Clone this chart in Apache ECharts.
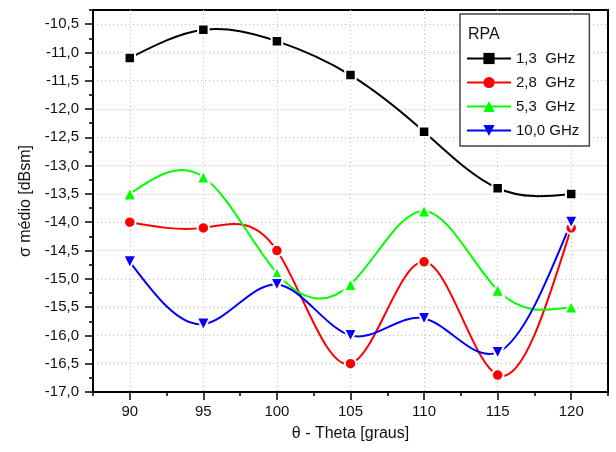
<!DOCTYPE html>
<html><head><meta charset="utf-8">
<script src="https://cdn.jsdelivr.net/npm/echarts@6/dist/echarts.min.js"></script>
<style>html,body{margin:0;padding:0;background:#fff}#c{width:616px;height:452px}</style>
</head><body><div id="c"></div>
<script>
const thetas = [90, 95, 100, 105, 110, 115, 120];
const s13 = [-11.1, -10.6, -10.8, -11.4, -12.4, -13.4, -13.5];
const s28 = [-14.0, -14.1, -14.5, -16.5, -14.7, -16.7, -14.1];
const s53 = [-13.5, -13.2, -14.9, -15.1, -13.8, -15.2, -15.5];
const s100 = [-14.7, -15.8, -15.1, -16.0, -15.7, -16.3, -14.0];
const seriesNames = ['1,3  GHz', '2,8  GHz', '5,3  GHz', '10,0 GHz'];
const legendTitle = 'RPA';
const xMajor = [90, 95, 100, 105, 110, 115, 120];
const xMinor = [87.5, 92.5, 97.5, 102.5, 107.5, 112.5, 117.5, 122.5];
const yMajor = [-17, -16.5, -16, -15.5, -15, -14.5, -14, -13.5, -13, -12.5, -12, -11.5, -11, -10.5];
const yMinor = [-16.75, -16.25, -15.75, -15.25, -14.75, -14.25, -13.75, -13.25, -12.75, -12.25, -11.75, -11.25, -10.75, -10.25];

const FONT = "'Liberation Sans', Arial, sans-serif";
const pair = arr => thetas.map((t, i) => [t, arr[i]]);
const chart = echarts.init(document.getElementById('c'), null, {renderer: 'canvas'});

// natural cubic spline through pixel points -> bezier path
function splinePath(pts) {
  const n = pts.length;
  const x = pts.map(p => p[0]), y = pts.map(p => p[1]);
  const h = [];
  for (let i = 0; i < n - 1; i++) h.push(x[i + 1] - x[i]);
  const M = new Array(n).fill(0);
  if (n > 2) {
    const a = [], b = [], c = [], d = [];
    for (let i = 1; i < n - 1; i++) {
      a.push(h[i - 1]); b.push(2 * (h[i - 1] + h[i])); c.push(h[i]);
      d.push(6 * ((y[i + 1] - y[i]) / h[i] - (y[i] - y[i - 1]) / h[i - 1]));
    }
    const m = b.length;
    for (let i = 1; i < m; i++) {
      const w = a[i] / b[i - 1];
      b[i] -= w * c[i - 1]; d[i] -= w * d[i - 1];
    }
    const sol = new Array(m);
    sol[m - 1] = d[m - 1] / b[m - 1];
    for (let i = m - 2; i >= 0; i--) sol[i] = (d[i] - c[i] * sol[i + 1]) / b[i];
    for (let i = 0; i < m; i++) M[i + 1] = sol[i];
  }
  let s = 'M' + x[0] + ' ' + y[0];
  for (let i = 0; i < n - 1; i++) {
    const hh = h[i], dy = (y[i + 1] - y[i]) / hh;
    const d0 = dy - hh * (2 * M[i] + M[i + 1]) / 6;
    const d1 = dy + hh * (M[i] + 2 * M[i + 1]) / 6;
    s += ' C' + (x[i] + hh / 3) + ' ' + (y[i] + d0 * hh / 3) + ' ' +
         (x[i + 1] - hh / 3) + ' ' + (y[i + 1] - d1 * hh / 3) + ' ' +
         x[i + 1] + ' ' + y[i + 1];
  }
  return s;
}

const major = (customValues, fmt, margin) => ({
  axisLine: {show: true, lineStyle: {color: '#000', width: 2}},
  axisTick: {show: true, inside: false, length: 8, customValues, lineStyle: {color: '#000', width: 1.5}},
  axisLabel: {show: true, customValues, margin, fontSize: 15, color: '#111', fontFamily: FONT, formatter: fmt},
  splitLine: {show: true, lineStyle: {color: '#b8b8b8', type: [1, 3], width: 1}}
});
const minor = (customValues) => ({
  axisLine: {show: false},
  axisTick: {show: true, inside: false, length: 4, customValues, lineStyle: {color: '#000', width: 1.5}},
  axisLabel: {show: false},
  splitLine: {show: false}
});

const curve = (arr, color) => ({
  type: 'custom', name: 'curve', data: pair(arr), z: 2, silent: true,
  renderItem: (params, api) => {
    if (params.dataIndex !== 0) return null;
    const pts = thetas.map((t, i) => api.coord([t, arr[i]]));
    return {type: 'path', shape: {pathData: splinePath(pts)},
      style: {stroke: color, lineWidth: 2, fill: null}};
  }
});
const marks = (name, arr, color, symbol, size, rot) => ({
  name, type: 'line', data: pair(arr), smooth: false,
  symbol, symbolSize: size, symbolRotate: rot || 0, showSymbol: true,
  lineStyle: {color, width: 2, opacity: 0},
  itemStyle: {color, borderColor: '#fff', borderWidth: 2},
  z: 3
});
const colors = ['#000000', '#ff0000', '#00ff00', '#0000ff'];

chart.setOption({
  animation: false,
  backgroundColor: '#fff',
  grid: {left: 93, top: 10, right: 8, bottom: 60, show: true, borderColor: '#000', borderWidth: 2, backgroundColor: 'transparent'},
  xAxis: [
    Object.assign({type: 'value', min: 87.5, max: 122.5, position: 'bottom',
      name: 'θ - Theta [graus]', nameLocation: 'middle', nameGap: 34,
      nameTextStyle: {fontSize: 16, color: '#111', fontFamily: FONT}},
      major(xMajor, v => String(v), 12)),
    Object.assign({type: 'value', min: 87.5, max: 122.5, position: 'bottom'}, minor(xMinor))
  ],
  yAxis: [
    Object.assign({type: 'value', min: -17, max: -10.25, position: 'left',
      name: 'σ médio [dBsm]', nameLocation: 'middle', nameGap: 59,
      nameTextStyle: {fontSize: 16, color: '#111', fontFamily: FONT}},
      major(yMajor, v => v.toFixed(1).replace('.', ','), 14)),
    Object.assign({type: 'value', min: -17, max: -10.25, position: 'left'}, minor(yMinor))
  ],
  legend: {
    orient: 'vertical', left: 460, top: 14,
    padding: [37, 10, 8, 6], itemWidth: 44, itemHeight: 14, itemGap: 9,
    backgroundColor: '#fff', borderColor: '#444', borderWidth: 1.5,
    textStyle: {fontSize: 15, color: '#111', fontFamily: FONT, lineHeight: 14},
    data: seriesNames.map((n, i) => ({name: n, lineStyle: {color: colors[i], width: 2, opacity: 1},
      itemStyle: {borderWidth: 0}})),
    z: 10
  },
  graphic: [{type: 'text', left: 468, top: 27, z: 100,
    style: {text: legendTitle, fontSize: 16, fill: '#111', fontFamily: FONT}}],
  series: [
    curve(s13, colors[0]), curve(s28, colors[1]), curve(s53, colors[2]), curve(s100, colors[3]),
    marks(seriesNames[0], s13, colors[0], 'rect', 10.5),
    marks(seriesNames[1], s28, colors[1], 'circle', 11.5),
    marks(seriesNames[2], s53, colors[2], 'triangle', 13),
    marks(seriesNames[3], s100, colors[3], 'triangle', 13, 180)
  ]
});
</script></body></html>
